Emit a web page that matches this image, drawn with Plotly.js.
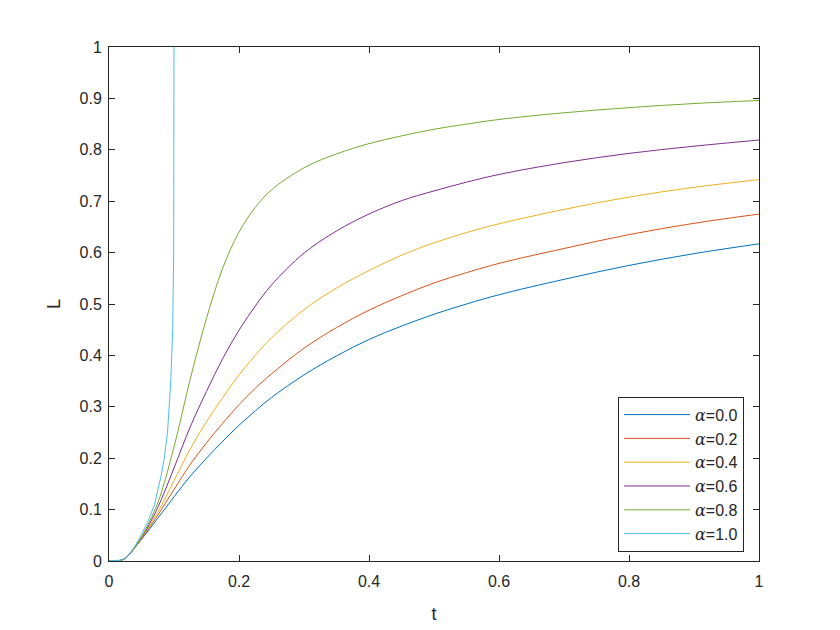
<!DOCTYPE html>
<html>
<head>
<meta charset="utf-8">
<script src="https://cdn.plot.ly/plotly-3.0.1.min.js"></script>
<style>html,body{margin:0;padding:0;background:#fff;}#chart{width:840px;height:630px;}</style>
</head>
<body>
<div id="chart"></div>
<script>
// Time grid for alpha = 0.0 ... 0.8
var tGrid = [0, 0.02, 0.03, 0.04, 0.05, 0.075, 0.1, 0.125, 0.15, 0.175, 0.2, 0.225, 0.25, 0.3, 0.35, 0.4, 0.45, 0.5, 0.55, 0.6, 0.7, 0.8, 0.9, 1.0];
var L_a00 = [0, 0.002, 0.011, 0.026, 0.042, 0.083, 0.125, 0.165, 0.200, 0.233, 0.264, 0.292, 0.318, 0.362, 0.399, 0.431, 0.457, 0.480, 0.500, 0.518, 0.548, 0.575, 0.598, 0.617];
var L_a02 = [0, 0.002, 0.011, 0.027, 0.043, 0.089, 0.139, 0.188, 0.230, 0.268, 0.304, 0.336, 0.364, 0.414, 0.454, 0.488, 0.516, 0.541, 0.561, 0.579, 0.608, 0.635, 0.657, 0.675];
var L_a04 = [0, 0.002, 0.011, 0.027, 0.044, 0.095, 0.156, 0.218, 0.271, 0.318, 0.362, 0.400, 0.434, 0.489, 0.531, 0.565, 0.595, 0.619, 0.639, 0.656, 0.684, 0.708, 0.727, 0.742];
var L_a06 = [0, 0.002, 0.011, 0.028, 0.045, 0.104, 0.181, 0.261, 0.330, 0.394, 0.449, 0.496, 0.537, 0.599, 0.642, 0.675, 0.701, 0.720, 0.737, 0.752, 0.775, 0.793, 0.807, 0.819];
var L_a08 = [0, 0.002, 0.011, 0.028, 0.047, 0.113, 0.222, 0.354, 0.472, 0.570, 0.640, 0.688, 0.722, 0.765, 0.792, 0.812, 0.827, 0.840, 0.850, 0.859, 0.872, 0.882, 0.890, 0.896];
// alpha = 1.0 blows up near t = 0.1
var tA10 = [0, 0.02, 0.03, 0.04, 0.05, 0.06, 0.07, 0.08, 0.085, 0.09, 0.095, 0.098, 0.0995, 0.1];
var L_a10 = [0, 0.002, 0.011, 0.029, 0.052, 0.077, 0.110, 0.165, 0.200, 0.250, 0.350, 0.450, 0.600, 1.05];

var seriesNames = ['α=0.0', 'α=0.2', 'α=0.4', 'α=0.6', 'α=0.8', 'α=1.0'];
var seriesColors = ['#0072BD', '#D95319', '#EDB120', '#7E2F8E', '#77AC30', '#4DBEEE'];
var seriesX = [tGrid, tGrid, tGrid, tGrid, tGrid, tA10];
var seriesY = [L_a00, L_a02, L_a04, L_a06, L_a08, L_a10];
var xTicks = [0, 0.2, 0.4, 0.6, 0.8, 1];
var xTickText = ['0', '0.2', '0.4', '0.6', '0.8', '1'];
var yTicks = [0, 0.1, 0.2, 0.3, 0.4, 0.5, 0.6, 0.7, 0.8, 0.9, 1];
var yTickText = ['0', '0.1', '0.2', '0.3', '0.4', '0.5', '0.6', '0.7', '0.8', '0.9', '1'];

function legendLabel(s) {
  return s.replace('α', '<span style="font-family:\'DejaVu Serif\';font-style:italic">α</span>');
}

var traces = seriesNames.map(function (n, i) {
  return {
    x: seriesX[i], y: seriesY[i], name: legendLabel(n),
    type: 'scatter', mode: 'lines',
    line: {color: seriesColors[i], width: 1, shape: i < 5 ? 'spline' : 'linear', smoothing: 1},
    cliponaxis: true
  };
});

var axisCommon = {
  showgrid: false, zeroline: false, showline: true, linecolor: '#262626', linewidth: 1,
  mirror: 'ticks', ticks: 'inside', ticklen: 6, tickcolor: '#262626', tickwidth: 1,
  tickfont: {family: 'Liberation Sans, Arial, sans-serif', size: 16, color: '#262626'}
};

var layout = {
  width: 840, height: 630,
  margin: {l: 109, r: 81, t: 47, b: 69},
  paper_bgcolor: '#ffffff', plot_bgcolor: '#ffffff',
  font: {family: 'Liberation Sans, Arial, sans-serif', color: '#262626'},
  xaxis: Object.assign({}, axisCommon, {
    range: [0, 1], tickvals: xTicks, ticktext: xTickText, ticklabelstandoff: 6,
    title: {text: 't', font: {size: 18, color: '#262626'}, standoff: 18}
  }),
  yaxis: Object.assign({}, axisCommon, {
    range: [0, 1], tickvals: yTicks, ticktext: yTickText, ticklabelstandoff: 3,
    title: {text: 'L', font: {size: 18, color: '#262626'}, standoff: 14}
  }),
  showlegend: true,
  legend: {
    x: 0.977, xanchor: 'right', y: 0.3197, yanchor: 'top',
    bgcolor: '#ffffff', bordercolor: '#262626', borderwidth: 1,
    font: {family: 'Liberation Sans, Arial, sans-serif', size: 16, color: '#262626'},
    itemwidth: 66, tracegroupgap: 0
  }
};

Plotly.newPlot('chart', traces, layout, {staticPlot: true, displayModeBar: false});
</script>
</body>
</html>
